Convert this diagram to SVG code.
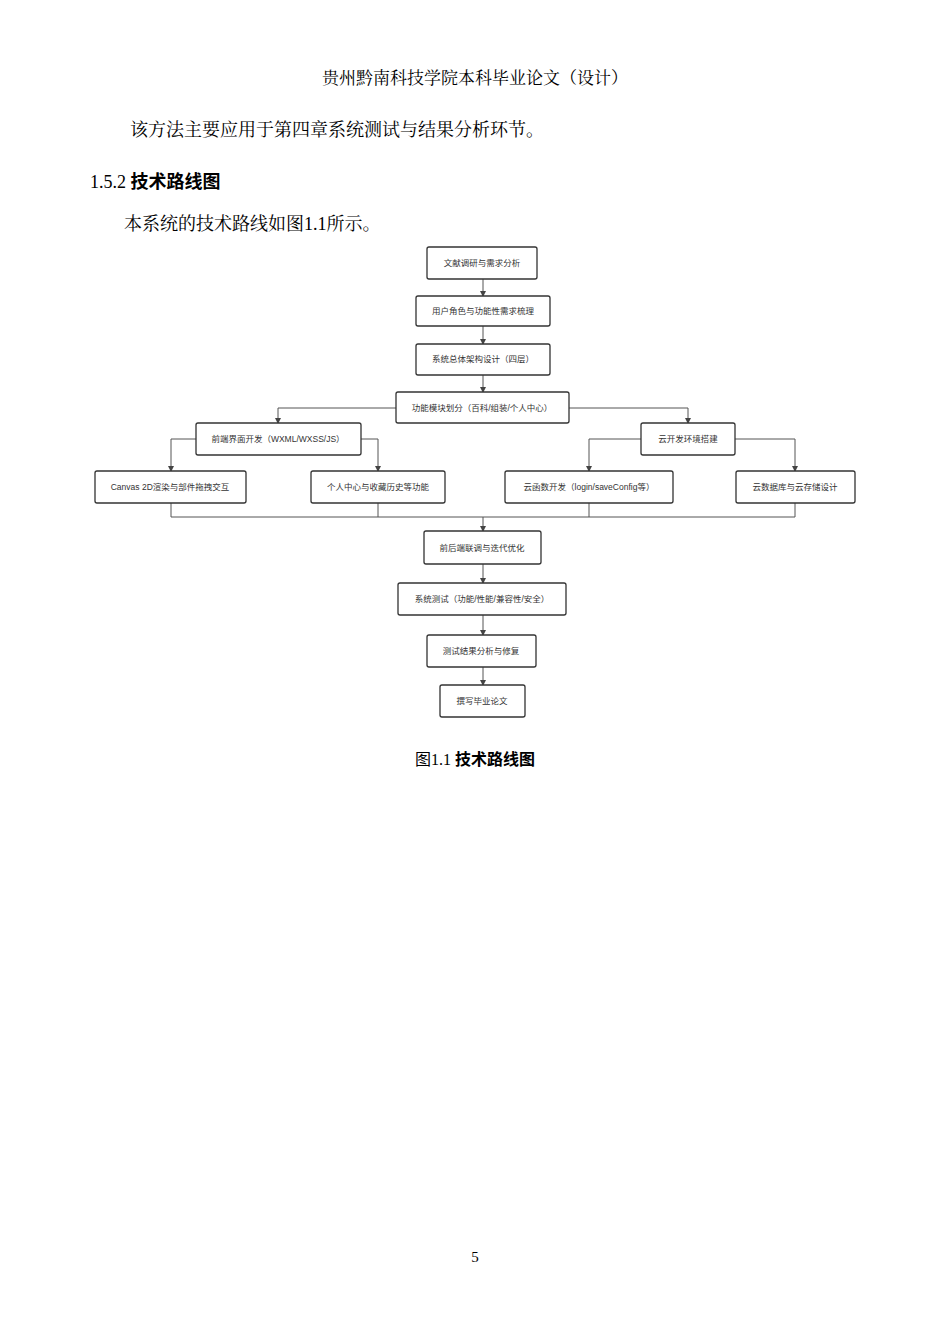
<svg xmlns="http://www.w3.org/2000/svg" width="950" height="1344" viewBox="0 0 950 1344">
<style>
.s{font-family:"Liberation Serif","Noto Serif CJK SC","Noto Sans CJK SC",serif;fill:#000}
.b rect{fill:#fff;stroke:#333;stroke-width:1.3}
.b text{font-family:"Liberation Sans","Noto Sans CJK SC",sans-serif;font-size:8.5px;fill:#333;text-anchor:middle}
#c path{fill:none;stroke:#555;stroke-width:1}
</style>
<defs><marker id="a" markerWidth="6" markerHeight="6" refX="5" refY="3" orient="auto" markerUnits="userSpaceOnUse"><path d="M0,0L6,3L0,6z" fill="#444"/></marker></defs>
<rect width="950" height="1344" fill="#fff"/>
<text class="s" x="475" y="84" font-size="17" text-anchor="middle">贵州黔南科技学院本科毕业论文（设计）</text>
<text class="s" x="130" y="136" font-size="18">该方法主要应用于第四章系统测试与结果分析环节。</text>
<text class="s" x="90" y="188" font-size="18">1.5.2 <tspan font-weight="bold" font-family="Noto Sans CJK SC,sans-serif">技术路线图</tspan></text>
<text class="s" x="124" y="230" font-size="18">本系统的技术路线如图1.1所示。</text>
<g id="c">
<path d="M483,279V296" marker-end="url(#a)"/>
<path d="M483,326V344" marker-end="url(#a)"/>
<path d="M483,375V392" marker-end="url(#a)"/>
<path d="M396,408H278V423" marker-end="url(#a)"/>
<path d="M569,408H688V423" marker-end="url(#a)"/>
<path d="M196,439H171V471" marker-end="url(#a)"/>
<path d="M361,439H378V471" marker-end="url(#a)"/>
<path d="M641,439H589V471" marker-end="url(#a)"/>
<path d="M735,439H795V471" marker-end="url(#a)"/>
<path d="M171,503V517H795V503M378,503V517M589,503V517"/>
<path d="M483,517V531" marker-end="url(#a)"/>
<path d="M483,564V583" marker-end="url(#a)"/>
<path d="M483,615V635" marker-end="url(#a)"/>
<path d="M483,667V685" marker-end="url(#a)"/>
</g>
<g id="n1" class="b"><rect x="427" y="247" width="110" height="32" rx="2"/><text x="482" y="266">文献调研与需求分析</text></g>
<g id="n2" class="b"><rect x="416" y="296" width="134" height="30" rx="2"/><text x="483" y="314">用户角色与功能性需求梳理</text></g>
<g id="n3" class="b"><rect x="416" y="344" width="134" height="31" rx="2"/><text x="483" y="362">系统总体架构设计（四层）</text></g>
<g id="n4" class="b"><rect x="396" y="392" width="173" height="31" rx="2"/><text x="482" y="411">功能模块划分（百科/组装/个人中心）</text></g>
<g id="n5" class="b"><rect x="196" y="423" width="165" height="32" rx="2"/><text x="278" y="442">前端界面开发（WXML/WXSS/JS）</text></g>
<g id="n6" class="b"><rect x="641" y="423" width="94" height="32" rx="2"/><text x="688" y="442">云开发环境搭建</text></g>
<g id="n7" class="b"><rect x="95" y="471" width="151" height="32" rx="2"/><text x="170" y="490">Canvas 2D渲染与部件拖拽交互</text></g>
<g id="n8" class="b"><rect x="311" y="471" width="134" height="32" rx="2"/><text x="378" y="490">个人中心与收藏历史等功能</text></g>
<g id="n9" class="b"><rect x="505" y="471" width="168" height="32" rx="2"/><text x="589" y="490">云函数开发（login/saveConfig等）</text></g>
<g id="n10" class="b"><rect x="736" y="471" width="119" height="32" rx="2"/><text x="795" y="490">云数据库与云存储设计</text></g>
<g id="n11" class="b"><rect x="424" y="531" width="117" height="33" rx="2"/><text x="482" y="551">前后端联调与迭代优化</text></g>
<g id="n12" class="b"><rect x="398" y="583" width="168" height="32" rx="2"/><text x="482" y="602">系统测试（功能/性能/兼容性/安全）</text></g>
<g id="n13" class="b"><rect x="427" y="635" width="109" height="32" rx="2"/><text x="481" y="654">测试结果分析与修复</text></g>
<g id="n14" class="b"><rect x="440" y="685" width="85" height="32" rx="2"/><text x="482" y="704">撰写毕业论文</text></g>
<text x="475" y="765" font-size="16" text-anchor="middle" font-family="Liberation Serif,Noto Sans CJK SC,serif">图1.1 <tspan font-weight="bold" font-family="Noto Sans CJK SC,sans-serif">技术路线图</tspan></text>
<text class="s" x="475" y="1262" font-size="15" text-anchor="middle">5</text>
</svg>
